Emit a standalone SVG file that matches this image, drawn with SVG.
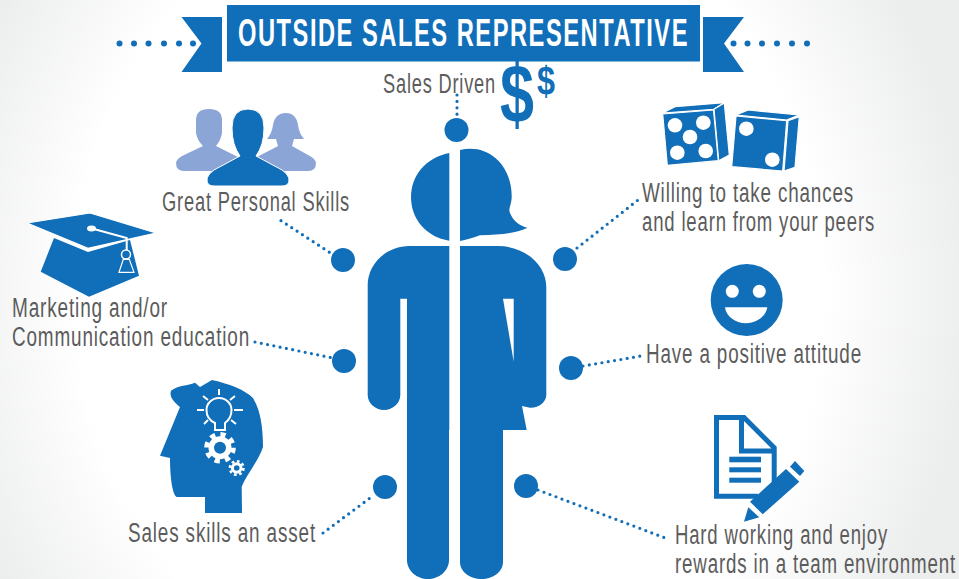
<svg xmlns="http://www.w3.org/2000/svg" width="959" height="579" viewBox="0 0 959 579">
<style>
.b{fill:#116eb8}
.l{fill:#8ba6d6}
.w{fill:#fff}
.t{font-family:"Liberation Sans",Arial,sans-serif;font-size:27px;letter-spacing:1.2px;fill:#5c5c5c}
.c{fill:none;stroke:#116eb8;stroke-width:3.2;stroke-linecap:round;stroke-dasharray:0 6.4}
.s{fill:none;stroke:#fff;stroke-width:2}
.d{fill:#116eb8;stroke:#fff;stroke-width:1.2;stroke-linejoin:round}
</style>
<defs>
<radialGradient id="bg" gradientUnits="userSpaceOnUse" cx="450" cy="290" r="520" gradientTransform="translate(450 290) scale(1 1.1) translate(-450 -290)">
<stop offset="0.72" stop-color="#fff"/>
<stop offset="1" stop-color="#eceded"/>
</radialGradient>
</defs>
<rect width="959" height="579" fill="url(#bg)"/>

<g id="banner">
<rect class="b" x="227" y="5" width="473" height="56.500"/>
<polygon class="b" points="181.500,17 222,17 222,72 181.500,72 201.500,43.500"/>
<polygon class="b" points="703,17 744,17 724,43.500 744,72 703,72"/>
<g class="b">
<circle cx="119.500" cy="43.500" r="3"/><circle cx="134" cy="43.500" r="3"/><circle cx="148.500" cy="43.500" r="3"/><circle cx="164" cy="43.500" r="3"/><circle cx="179" cy="43.500" r="3"/><circle cx="193" cy="43.500" r="3"/>
<circle cx="733.500" cy="43.500" r="3"/><circle cx="747.500" cy="43.500" r="3"/><circle cx="762" cy="43.500" r="3"/><circle cx="777" cy="43.500" r="3"/><circle cx="792" cy="43.500" r="3"/><circle cx="807" cy="43.500" r="3"/>
</g>
<text x="238" y="46" textLength="451" lengthAdjust="spacingAndGlyphs" style="font-family:'Liberation Sans',Arial,sans-serif;font-weight:700;font-size:39px;letter-spacing:2.500px;fill:#fff">OUTSIDE SALES REPRESENTATIVE</text>
</g>

<g id="connectors">
<path class="c" d="M457 95V116"/>
<path class="c" d="M281 220.700L332 254"/>
<path class="c" d="M255 342L333 358"/>
<path class="c" d="M323 533L374 495"/>
<path class="c" d="M577 248L638 200"/>
<path class="c" d="M583 366L641 356"/>
<path class="c" d="M538 490L668 539"/>
</g>

<g id="figure">
<path class="b" d="M449.300 153C425 158 411 176 411 197C411 219 426 237 449.300 240.700Z"/>
<path class="b" d="M460 150C488 143 512 165 511.700 197C511.500 205 508 209 510 213C513 221 520 226 527.500 227.700C518 233 500 235 480 235.300C472 238 466 240 460 241Z"/>
<path class="b" d="M449.300 246H410C385 246 367.700 265 367.700 285V395C367.700 403 375 410 384 410C393 410 400.300 403 400.300 395V298.700H407V560C407 571 417 579 428 579C439 579 449 571 449 560V430H449.300Z"/>
<path class="b" d="M460 246H498C525 246 546.300 265 546.300 287V395C546.300 402 539 408 530 407.700L522 406L526.700 430H503V561.700C503 572 493 579 481.700 579C470 579 460 572 460 561.700Z"/>
<polygon class="w" points="503,298.700 513.700,298.700 513.700,361.700"/>
</g>

<g id="node-sales-driven">
<circle class="b" cx="456.500" cy="130" r="12"/>
<text class="t" x="383" y="93" textLength="113" lengthAdjust="spacingAndGlyphs">Sales Driven</text>
<text x="500" y="123" textLength="34" lengthAdjust="spacingAndGlyphs" style="font-family:'Liberation Sans',Arial,sans-serif;font-weight:700;font-size:84px;fill:#116eb8">$</text>
<text x="537" y="95" textLength="18" lengthAdjust="spacingAndGlyphs" style="font-family:'Liberation Sans',Arial,sans-serif;font-weight:700;font-size:40px;fill:#116eb8">$</text>
</g>

<g id="node-personal-skills">
<circle class="b" cx="343" cy="260" r="12"/>
<path class="l" d="M196 120Q196 109 209 109Q222 109 222 120V133Q221 140 216 146L240 158V171H184Q176 171 176 163Q177 158 184 155L203 146Q197 140 196 133Z"/>
<path class="l" d="M286 113Q275 113 273 125Q272 133 267 139H276L278 146L255 158L250 171H308Q316 171 316 163Q315 158 308 155L292 146L294 139H304Q299 133 298 125Q296 113 286 113Z"/>
<path class="b" stroke="#fff" stroke-width="1" d="M232 128Q232 109 248 109Q264 109 264 128Q264 145 256 156L282 170Q289 175 289 180Q289 186 282 186H214Q207 186 207 180Q207 175 214 170L240 156Q232 145 232 128Z"/>
<text class="t" x="162" y="211" textLength="188" lengthAdjust="spacingAndGlyphs">Great Personal Skills</text>
</g>

<g id="node-education">
<circle class="b" cx="344" cy="361" r="12"/>
<polygon class="b" points="54,238 40.700,271.700 89,296.700 139,275.700 130,240 88,252"/>
<polygon class="d" points="27,223 90,213 156,233 88,248.300"/>
<ellipse class="w" cx="91.500" cy="228.500" rx="4.500" ry="3"/>
<path class="s" d="M92 228.500L126.700 238V250"/>
<circle class="s" style="stroke-width:1.500" cx="126" cy="254.500" r="4.500"/>
<polygon class="s" style="stroke-width:1.200" points="123.300,259.300 119,272.300 134,272.300 129.300,259.300"/>
<text class="t" x="12" y="317" textLength="156" lengthAdjust="spacingAndGlyphs">Marketing and/or</text>
<text class="t" x="12" y="346" textLength="238" lengthAdjust="spacingAndGlyphs">Communication education</text>
</g>

<g id="node-sales-skills">
<circle class="b" cx="385" cy="487" r="12"/>
<path class="b" d="M171 390.700C178 385 188 386 195 382.700L200 387L212 380C230 384 245 390 253 398C260 410 263 425 263 447C258 462 246 475 241.700 487L242 513H205V497H176.700C172 494 170 475 170 458L160 455.700L180 407C174 402 169 397 171 390.700Z"/>
<path class="s" d="M215 430V423C208 420 206.500 415 206.500 410A12.500 12 0 0 1 231.500 410C231.500 415 229 420 225 423V430Z"/>
<path class="s" d="M219 389V395M203 396L208 400M235 396L230 400M197 410H204M234 410H243M204 424L208 420M236 424L231 420"/>
<circle class="w" cx="220" cy="447.700" r="11.500"/>
<circle fill="none" stroke="#fff" stroke-width="5" stroke-dasharray="5.200 5.250" cx="220" cy="447.700" r="13.300"/>
<circle class="b" cx="220" cy="447.700" r="6"/>
<circle class="w" cx="236.700" cy="468" r="5.800"/>
<circle fill="none" stroke="#fff" stroke-width="2.600" stroke-dasharray="2.700 2.640" cx="236.700" cy="468" r="6.800"/>
<circle class="b" cx="236.700" cy="468" r="2.800"/>
<text class="t" x="128" y="542" textLength="188" lengthAdjust="spacingAndGlyphs">Sales skills an asset</text>
</g>

<g id="node-chances">
<circle class="b" cx="565" cy="259" r="12"/>
<polygon class="d" points="662.700,113 675,106.700 724.300,102.700 714,109.300"/>
<polygon class="d" points="714,109.300 724.300,103 729.300,155 718.700,160.700"/>
<polygon class="d" points="662.700,114 713.500,110 718.300,160.700 667.300,165.300"/>
<g class="w"><circle cx="675" cy="125.300" r="7.300"/><circle cx="703.300" cy="122.700" r="7.300"/><circle cx="690" cy="137" r="7.300"/><circle cx="677.300" cy="152.700" r="7.300"/><circle cx="705.700" cy="151" r="7.300"/></g>
<polygon class="d" points="736,115 748.300,110 799,115 786.700,120"/>
<polygon class="d" points="788,120.700 799.300,116.700 795,167.300 784,171"/>
<polygon class="d" points="736,116 786.700,120.700 782.700,171 731.700,166.700"/>
<g class="w"><circle cx="746.300" cy="128.700" r="7.300"/><circle cx="772.300" cy="159.700" r="7.300"/></g>
<text class="t" x="642" y="202" textLength="212" lengthAdjust="spacingAndGlyphs">Willing to take chances</text>
<text class="t" x="642" y="231" textLength="233" lengthAdjust="spacingAndGlyphs">and learn from your peers</text>
</g>

<g id="node-attitude">
<circle class="b" cx="571" cy="368" r="12"/>
<circle class="b" cx="746.700" cy="300" r="36"/>
<circle class="w" cx="732.300" cy="291.300" r="6.500"/>
<circle class="w" cx="759.300" cy="291.300" r="6.500"/>
<path class="w" d="M725 307.300H767.300C766 316 757 323.300 746.200 323.300C735 323.300 726 316 725 307.300Z"/>
<text class="t" x="646" y="363" textLength="216" lengthAdjust="spacingAndGlyphs">Have a positive attitude</text>
</g>

<g id="node-hard-working">
<circle class="b" cx="526" cy="486" r="12"/>
<path fill="none" stroke="#116eb8" stroke-width="5" d="M758 496.200H716.500V417.500H744L774.200 447.800V483M741.500 417.500V451H774"/>
<rect class="b" x="729.300" y="456.700" width="31.700" height="5.600"/>
<rect class="b" x="729.300" y="467.300" width="31.700" height="5"/>
<rect class="b" x="729.300" y="477.700" width="31.700" height="5"/>
<polygon class="b" points="786,469 799.300,481.700 762.700,514.300 750,501.700"/>
<polygon class="b" points="795,461 804.300,471 800,476 790,466.700"/>
<polygon class="b" points="748.300,507.300 759.300,517.300 744,521.700"/>
<text class="t" x="675" y="544" textLength="213" lengthAdjust="spacingAndGlyphs">Hard working and enjoy</text>
<text class="t" x="675" y="573" textLength="281" lengthAdjust="spacingAndGlyphs">rewards in a team environment</text>
</g>
</svg>
